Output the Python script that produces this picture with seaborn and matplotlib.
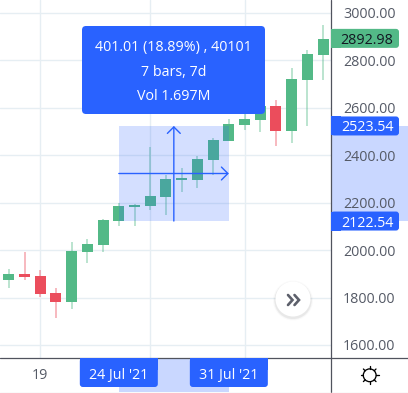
import matplotlib
matplotlib.use("Agg")
import matplotlib.pyplot as plt
import pandas as pd
import seaborn as sns
from matplotlib.patches import Circle, FancyBboxPatch, Rectangle

# candles, one per day
opens = [1875, 1899, 1891, 1819, 1782, 1993, 2023, 2123, 2183, 2186, 2225, 2296, 2296, 2380, 2460, 2528, 2549, 2608, 2502, 2717, 2823]
highs = [1919, 1992, 1916, 1840, 2034, 2047, 2130, 2199, 2194, 2435, 2317, 2346, 2397, 2473, 2553, 2574, 2608, 2633, 2768, 2844, 2949]
lows = [1841, 1874, 1802, 1715, 1753, 1947, 1993, 2102, 2102, 2169, 2148, 2245, 2262, 2317, 2460, 2507, 2499, 2439, 2452, 2523, 2717]
closes = [1899, 1887, 1816, 1782, 1996, 2026, 2127, 2186, 2190, 2228, 2300, 2302, 2384, 2464, 2532, 2553, 2608, 2502, 2722, 2827, 2890]

price_ticks = [1600, 1800, 2000, 2200, 2400, 2600, 2800, 3000]
time_ticks = [2, 9, 15]
time_labels = ["19", "", ""]
last_price = 2892.98
measure_low = 2122.54
measure_high = 2523.54
measure_from = 7
measure_to = 14
measure_lines = ["401.01 (18.89%) , 40101", "7 bars, 7d", "Vol 1.697M"]
date_from = "24 Jul '21"
date_to = "31 Jul '21"

GREEN = "#53b987"
RED = "#eb4d5c"
BLUE = "#2962ff"
GRID = "#e6eef3"
AXIS = "#50535e"
TEXT = "#555a66"
FONT = 10.3

W, H = 408, 393
PANE_W, PANE_H = 331, 358

sns.set_theme(style="white")
plt.rcParams["font.family"] = ["Open Sans", "DejaVu Sans"]
plt.rcParams["font.size"] = FONT

fig = plt.figure(figsize=(W / 100, H / 100), dpi=100)
ax = fig.add_axes([0, 1 - PANE_H / H, PANE_W / W, PANE_H / H])

df = pd.DataFrame({"bar": range(len(opens)), "open": opens, "high": highs, "low": lows, "close": closes})
df["bottom"] = df[["open", "close"]].min(axis=1)
df["height"] = (df["close"] - df["open"]).abs()
df["up"] = df["close"] >= df["open"]

for up, color in [(True, GREEN), (False, RED)]:
    sub = df[df["up"] == up]
    ax.vlines(sub["bar"], sub["low"], sub["high"], color=color, alpha=0.5, lw=1.1, zorder=2)
    sns.barplot(data=sub, x="bar", y="height", order=list(df["bar"]), bottom=sub["bottom"].values,
                color=color, saturation=1, width=0.7, errorbar=None, linewidth=0, ax=ax, zorder=3)

ax.set_xlim(-0.56, 20.5)
ax.set_ylim(1544.9, 3054.8)
ax.set_xlabel("")
ax.set_ylabel("")
ax.set_xticks(time_ticks)
ax.set_xticklabels(time_labels, color=TEXT)
ax.set_yticks(price_ticks)
ax.set_yticklabels(["%.2f" % p for p in price_ticks], color=TEXT)
ax.yaxis.tick_right()
ax.tick_params(axis="y", length=0, pad=8.6, labelsize=FONT)
ax.tick_params(axis="x", length=0, pad=7, labelsize=FONT)
ax.grid(True, color=GRID, lw=1.0, zorder=0)
ax.set_axisbelow(True)
for side in ["top", "left", "right", "bottom"]:
    ax.spines[side].set_visible(False)

# measure tool
mid_price = (measure_low + measure_high) / 2
mid_bar = (measure_from + measure_to) / 2
ax.add_patch(Rectangle((measure_from, measure_low), measure_to - measure_from, measure_high - measure_low,
                       color=BLUE, alpha=0.2, lw=0, zorder=4))
ax.add_patch(Rectangle((1, measure_low), (W - PANE_W) / PANE_W, measure_high - measure_low, color=BLUE, alpha=0.25,
                       lw=0, transform=ax.get_yaxis_transform(), clip_on=False, zorder=0))
ax.add_patch(Rectangle((measure_from, -(H - 1 - PANE_H) / PANE_H), measure_to - measure_from, (H - 1 - PANE_H) / PANE_H,
                       color=BLUE, alpha=0.25, lw=0, transform=ax.get_xaxis_transform(), clip_on=False, zorder=0))
arrow = dict(arrowstyle="->,head_length=0.45,head_width=0.45", color=BLUE, lw=1.0, shrinkA=0, shrinkB=0)
ax.annotate("", xy=(mid_bar, measure_high), xytext=(mid_bar, measure_low), arrowprops=arrow, zorder=5)
ax.annotate("", xy=(measure_to, mid_price), xytext=(measure_from, mid_price), arrowprops=arrow, zorder=5)

# overlay in pixels for the boxes, tooltip and buttons
ui = fig.add_axes([0, 0, 1, 1], facecolor="none")
ui.set_xlim(0, W)
ui.set_ylim(H, 0)
ui.axis("off")


def to_ui(x, y):
    return ui.transData.inverted().transform(ax.transData.transform((x, y)))


def rounded(x0, y0, x1, y1, color, r=3):
    ui.add_patch(FancyBboxPatch((x0, y0), x1 - x0, y1 - y0, boxstyle="round,pad=0,rounding_size=%g" % r,
                                fc=color, ec="none", zorder=3))


def price_box(price, color, text_color):
    y = to_ui(0, price)[1]
    rounded(PANE_W, y - 9.5, 399, y + 9.5, color)
    ui.add_patch(Rectangle((PANE_W, y - 9.5), 10, 19, fc=color, ec="none", zorder=3))
    ui.text(367, y, "%.2f" % price, color=text_color, ha="center", va="center_baseline", zorder=4)


def time_box(bar, label):
    x = to_ui(bar, 2000)[0]
    rounded(x - 39, PANE_H, x + 39, 387, BLUE)
    ui.add_patch(Rectangle((x - 39, PANE_H), 78, 12, fc=BLUE, ec="none", zorder=3))
    ui.text(x, 373.5, label, color="white", ha="center", va="center_baseline", zorder=4)


ui.plot([PANE_W, PANE_W], [0, 392], color=AXIS, lw=0.9, zorder=2)
ui.plot([0, W], [PANE_H, PANE_H], color=AXIS, lw=0.9, zorder=2)
ui.plot([0, W], [392.5, 392.5], color="#e6e6e6", lw=1, zorder=2)

price_box(last_price, GREEN, "#131722")
price_box(measure_high, BLUE, "white")
price_box(measure_low, BLUE, "white")
time_box(measure_from, date_from)
time_box(measure_to, date_to)

rounded(82, 26, 265, 114, BLUE, r=4)
for y, line in zip([45, 70, 95], measure_lines):
    ui.text(173.5, y, line, color="white", ha="center", va="center_baseline", zorder=4)

# scroll to end button
for r, a in [(20, 0.02), (19, 0.03), (18.5, 0.04)]:
    ui.add_patch(Circle((293, 300.5), r, fc="black", alpha=a, ec="none", zorder=2))
ui.add_patch(Circle((293, 299), 17.5, fc="white", ec="none", zorder=3))
for dx in [0, 6.5]:
    ui.plot([288 + dx, 292.5 + dx, 288 + dx], [295, 300, 305], color="#5d606b", lw=1.9, zorder=4,
            solid_capstyle="round", solid_joinstyle="miter")

# settings sun
sx, sy = 369.7, 375.3
ui.add_patch(Circle((sx, sy), 6.4, fc="none", ec="black", lw=0.95, zorder=4))
for dx, dy in [(0, -1), (0, 1), (-1, 0), (1, 0), (-0.7, -0.7), (0.7, -0.7), (-0.7, 0.7), (0.7, 0.7)]:
    ui.plot([sx + dx * 6.4, sx + dx * 9], [sy + dy * 6.4, sy + dy * 9], color="black", lw=0.95, zorder=4)

fig.savefig("out.png", dpi=100)
plt.close(fig)
